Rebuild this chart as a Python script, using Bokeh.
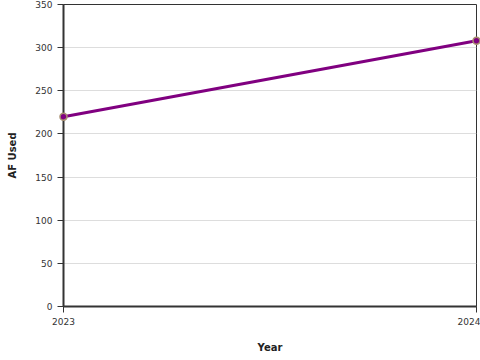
from bokeh.plotting import figure
from bokeh.models import Range1d, FixedTicker, ColumnDataSource
from bokeh.embed import file_html
from bokeh.resources import INLINE

years = [2023, 2024]
af_used = [220, 308]
y_ticks = [0, 50, 100, 150, 200, 250, 300, 350]

src = ColumnDataSource(dict(x=years, y=af_used))

p = figure(width=480, height=360, output_backend="svg", toolbar_location=None,
           x_range=Range1d(2023, 2024), y_range=Range1d(0, 350),
           min_border_left=63, min_border_right=4, min_border_top=4, min_border_bottom=54)

p.line('x', 'y', source=src, line_color="purple", line_width=3)
p.scatter('x', 'y', source=src, size=7, fill_color="purple", line_color="#a89070",
          line_width=1.5, level="overlay")

p.xaxis.ticker = FixedTicker(ticks=years)
p.yaxis.ticker = FixedTicker(ticks=y_ticks)
p.xaxis.axis_label = "Year"
p.yaxis.axis_label = "AF Used"
for ax in (p.xaxis, p.yaxis):
    ax.axis_line_width = 2
    ax.axis_line_color = "#333333"
    ax.major_tick_line_color = "#333333"
    ax.major_tick_line_width = 1
    ax.major_tick_in = 0
    ax.major_tick_out = 6
    ax.minor_tick_line_color = None
    ax.major_label_text_font = "DejaVu Sans"
    ax.major_label_text_font_size = "9px"
    ax.major_label_text_color = "#333333"
    ax.axis_label_text_font = "DejaVu Sans"
    ax.axis_label_text_font_size = "10px"
    ax.axis_label_text_font_style = "bold"
    ax.axis_label_text_color = "#222222"
p.yaxis.axis_label_standoff = 14
p.xaxis.axis_label_standoff = 14

p.xgrid.grid_line_color = None
p.ygrid.grid_line_color = "#dddddd"
p.outline_line_color = "#333333"
p.outline_line_width = 1
p.background_fill_color = "white"
p.border_fill_color = "white"

open("out.html", "w").write(file_html(p, INLINE))
